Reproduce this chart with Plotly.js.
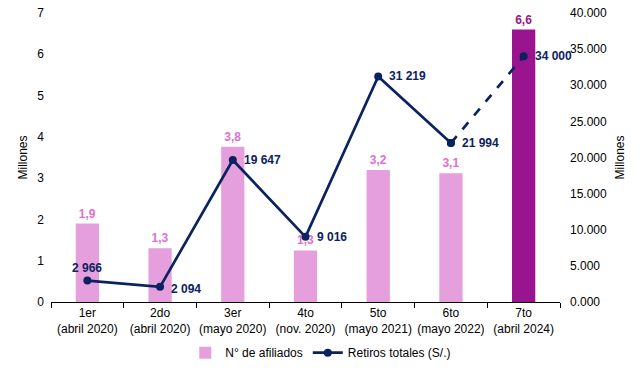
<!DOCTYPE html>
<html><head><meta charset="utf-8">
<script src="https://cdn.plot.ly/plotly-3.0.1.min.js"></script>
<style>html,body{margin:0;padding:0;background:#fff}#c{width:640px;height:372px}</style>
</head><body><div id="c"></div>
<script>
var categories = ["1er<br>(abril 2020)","2do<br>(abril 2020)","3er<br>(mayo 2020)","4to<br>(nov. 2020)","5to<br>(mayo 2021)","6to<br>(mayo 2022)","7to<br>(abril 2024)"];
var afiliados = [1.9, 1.3, 3.76, 1.25, 3.2, 3.12, 6.6];
var afiliadosLabels = ["1,9","1,3","3,8","1,3","3,2","3,1","6,6"];
var retiros = [2966, 2094, 19647, 9016, 31219, 21994, 34000];
var retirosLabels = ["2 966","2 094","19 647","9 016","31 219","21 994","34 000"];
var leftTicks = [0,1,2,3,4,5,6,7];
var rightTicks = [0,5000,10000,15000,20000,25000,30000,35000,40000];
var rightTickText = ["0.000","5.000","10.000","15.000","20.000","25.000","30.000","35.000","40.000"];

var FONT = "Liberation Sans, Arial, sans-serif";
var pink = "#E49FDC", purple = "#9A1490", navy = "#0B2260";
var barColors = afiliados.map(function(v,i){return i===afiliados.length-1?purple:pink;});
var barTextColors = afiliados.map(function(v,i){return i===afiliados.length-1?purple:"#E070CF";});

var solidN = 6;
var traces = [
 {type:"bar", x:categories, y:afiliados, name:"N° de afiliados", marker:{color:barColors},
  width:0.32, text:afiliadosLabels, textposition:"outside", cliponaxis:false,
  textfont:{family:FONT, size:12, color:barTextColors, weight:"bold"}, hoverinfo:"none"},
 {type:"scatter", mode:"lines+markers", x:categories.slice(0,solidN), y:retiros.slice(0,solidN), yaxis:"y2",
  name:"Retiros totales (S/.)", line:{color:navy, width:2.7}, marker:{color:navy, size:8}, cliponaxis:false},
 {type:"scatter", mode:"lines+markers", x:categories.slice(solidN-1), y:retiros.slice(solidN-1), yaxis:"y2",
  showlegend:false, line:{color:navy, width:2.7, dash:"dash"}, marker:{color:navy, size:8}, cliponaxis:false}
];

var annotations = retiros.map(function(v,i){
  var a = {x:categories[i], y:v, xref:"x", yref:"y2", text:"<b>"+retirosLabels[i]+"</b>", showarrow:false,
    font:{family:FONT, size:12, color:navy}, xanchor:"left", yanchor:"middle", xshift:9, yshift:0};
  if(i===0){a.xanchor="center"; a.yanchor="bottom"; a.xshift=0; a.yshift=4;}
  if(i===1){a.yshift=-2;}
  return a;
});

var layout = {
 width:640, height:372, margin:{l:51, r:80, t:13, b:70, autoexpand:false},
 paper_bgcolor:"#fff", plot_bgcolor:"#fff",
 font:{family:FONT, size:12, color:"#000"},
 showlegend:true,
 legend:{orientation:"h", x:0.53, xanchor:"center", yref:"container", y:0.052, yanchor:"middle", font:{size:12}},
 xaxis:{type:"category", range:[-0.5, categories.length-0.5], showline:true, linecolor:"#000", linewidth:1,
   ticks:"outside", tickson:"boundaries",
   ticklen:5, tickcolor:"#000", showgrid:false, tickfont:{size:12}, tickangle:0, automargin:false},
 yaxis:{range:[0,7], tickvals:leftTicks, showgrid:false, zeroline:false, showline:false, ticks:"",
   ticklabelstandoff:6, automargin:false,
   title:{text:"Millones", font:{size:12}, standoff:7}},
 yaxis2:{range:[0,40000], overlaying:"y", side:"right", tickvals:rightTicks, ticktext:rightTickText,
   ticklabelstandoff:9, automargin:false,
   showgrid:false, zeroline:false, showline:false, ticks:"", title:{text:"Millones", font:{size:12}, standoff:9}},
 annotations:annotations,
 bargap:0.68
};
Plotly.newPlot("c", traces, layout, {staticPlot:true, displayModeBar:false});
</script></body></html>
